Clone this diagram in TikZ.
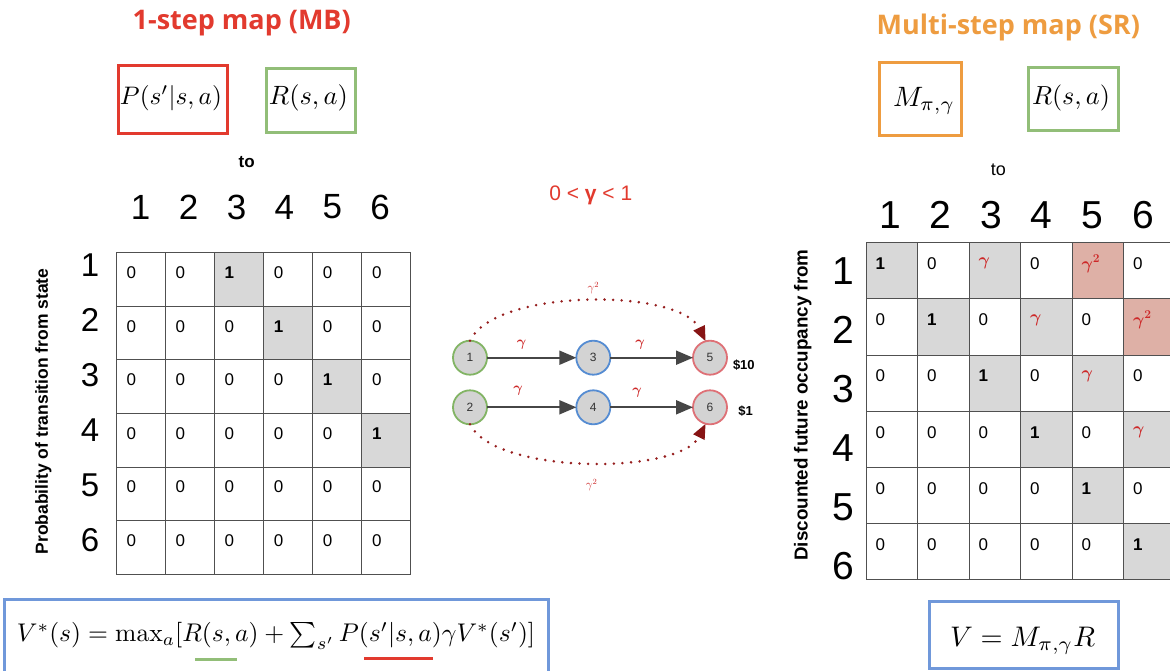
\documentclass[tikz,border=0pt]{standalone}
\usepackage{amsmath}
\usepackage{graphicx}
\usepackage[no-math]{fontspec}
\setmainfont{Liberation Sans}
\newfontfamily\headfont{Open Sans}
\usetikzlibrary{arrows.meta}

\definecolor{mbred}{RGB}{226,58,46}
\definecolor{srorange}{RGB}{238,156,64}
\definecolor{rgreen}{RGB}{146,190,120}
\definecolor{eqblue}{RGB}{112,152,218}
\definecolor{cellgray}{RGB}{216,216,216}
\definecolor{cellpink}{RGB}{222,176,166}
\definecolor{gridline}{RGB}{80,80,80}
\definecolor{gamred}{RGB}{205,40,40}
\definecolor{arrowgray}{RGB}{70,70,70}
\definecolor{dotred}{RGB}{150,30,30}
\definecolor{tipred}{RGB}{135,20,20}
\definecolor{nodefill}{RGB}{211,211,211}
\definecolor{ngreen}{RGB}{130,180,100}
\definecolor{nblue}{RGB}{85,140,210}
\definecolor{npink}{RGB}{222,112,118}

\newcommand\fsz[1]{\fontsize{#1}{#1}\selectfont}

\begin{document}
\begin{tikzpicture}[x=1pt,y=-1pt,
  every node/.style={inner sep=0pt, outer sep=0pt},
  title/.style={font=\headfont\bfseries\fsz{27}},
  termbox/.style={draw=#1, line width=3pt, fill=white},
  bigdigit/.style={font=\fsz{#1}},
  axislabel/.style={font=\bfseries\fsz{#1}, rotate=90},
  cell/.style={draw=gridline, line width=1pt, minimum width=#1, anchor=north west},
  celltext/.style={anchor=west, font=\fsz{17}},
  state/.style={circle, minimum size=34pt, fill=nodefill, line width=1.8pt, font=\fsz{12}, text=black!80},
  flow/.style={draw=arrowgray, line width=2pt, -{Triangle[length=17pt,width=14pt]}},
  jump/.style={draw=dotred, line width=2.8pt, line cap=round, dash pattern=on 0pt off 8.6pt,
    -{Triangle[length=15pt,width=12pt,fill=tipred,color=tipred]}},
  glab/.style={text=gamred, font=\fsz{14}},
  reward/.style={anchor=west, font=\bfseries\fsz{13}},
  eqbox/.style={draw=eqblue, line width=3pt},
]
\useasboundingbox (0,0) rectangle (1170,670);
\fill[white] (0,0) rectangle (1170,670);
\begin{scope}
\clip (0,0) rectangle (1170,670);

% ---------------- left: one-step model ----------------
\node[title, text=mbred] (mbtitle) at (241.7,23) {1-step map (MB)};
\node[termbox=mbred, minimum width=109pt, minimum height=68pt] (pbox) at (172.5,99) {};
\node (pterm) at (171,98) {\resizebox{102pt}{!}{$P(s'|s,a)$}};
\node[termbox=rgreen, minimum width=89pt, minimum height=64pt] (rbox) at (310.5,100) {};
\node (rterm) at (308.5,98) {\resizebox{79pt}{!}{$R(s,a)$}};

\node[font=\bfseries\fsz{17}] (lto) at (246.7,161.7) {to};
\foreach \c in {1,...,6}{
  \node[bigdigit=35] (lcol\c) at ({140.7+47.9*(\c-1)},207) {\c};
}
\foreach \r in {1,...,6}{
  \node[bigdigit=33] (lrow\r) at (90,{265+55*(\r-1)}) {\r};
}
\node[axislabel=17.5] (lylab) at (43.3,411.5) {Probability of transition from state};

\foreach \r in {1,...,6}{
  \foreach \c in {1,...,6}{
    \pgfmathtruncatemacro\d{\c-\r}
    \ifnum\d=2 \def\fc{cellgray}\def\val{\textbf{1}}\else\def\fc{white}\def\val{0}\fi
    \node[cell=49.1pt, minimum height=53.6pt, fill=\fc] (lc-\r-\c)
      at ({116+49.1*(\c-1)},{252.7+53.6*(\r-1)}) {};
    \node[celltext] (lt-\r-\c) at ({126.5+49.1*(\c-1)},{272.7+53.6*(\r-1)}) {\val};
  }
}

% ---------------- middle: state graph ----------------
\node[text=mbred, font=\fsz{21}] (gamrange) at (590.8,195) {0 < \textbf{γ} < 1};

\node[state, draw=ngreen] (n1) at (470,357.7) {1};
\node[state, draw=nblue]  (n3) at (593.3,357.7) {3};
\node[state, draw=npink]  (n5) at (710,357.7) {5};
\node[state, draw=ngreen] (n2) at (470,407.3) {2};
\node[state, draw=nblue]  (n4) at (593.3,407.3) {4};
\node[state, draw=npink]  (n6) at (710,407.3) {6};

\draw[flow] (n1) -- (n3);
\draw[flow] (n3) -- (n5);
\draw[flow] (n2) -- (n4);
\draw[flow] (n4) -- (n6);
\node[glab] (g13) at (521.7,345) {$\boldsymbol{\gamma}$};
\node[glab] (g35) at (640,345) {$\boldsymbol{\gamma}$};
\node[glab] (g24) at (518,391) {$\boldsymbol{\gamma}$};
\node[glab] (g46) at (637,393) {$\boldsymbol{\gamma}$};

\draw[jump] (n1.north) .. controls (495,288) and (680,288) .. (n5.105);
\draw[jump] (n2.south) .. controls (495,475) and (680,475) .. (n6.-105);
\node[glab, font=\fsz{12}] (gsqtop) at (593.3,288.3) {$\gamma^2$};
\node[glab, font=\fsz{12}] (gsqbot) at (591.7,485) {$\gamma^2$};

\node[reward] (r5) at (733,365) {\$10};
\node[reward] (r6) at (738.3,410.7) {\$1};

% ---------------- right: successor representation ----------------
\node[title, text=srorange] (srtitle) at (1008.3,27) {Multi-step map (SR)};
\node[termbox=srorange, minimum width=81.7pt, minimum height=73.3pt] (mbox) at (920.8,99.3) {};
\node (mterm) at (924,101) {\resizebox{62pt}{!}{$M_{\pi,\gamma}$}};
\node[termbox=rgreen, minimum width=90pt, minimum height=63pt] (rbox2) at (1073.3,99.2) {};
\node (rterm2) at (1071,98) {\resizebox{78pt}{!}{$R(s,a)$}};

\node[font=\fsz{18}] (rto) at (998.3,170) {to};
\foreach \c in {1,...,6}{
  \node[bigdigit=39] (rcol\c) at ({890+50.6*(\c-1)},215) {\c};
}
\foreach \r in {1,...,6}{
  \node[bigdigit=39] (rrow\r) at (843.3,{271+59*(\r-1)}) {\r};
}
\node[axislabel=18.8] (rylab) at (802.7,405) {Discounted future occupancy from};

\foreach \r in {1,...,6}{
  \foreach \c in {1,...,6}{
    \pgfmathtruncatemacro\d{\c-\r}
    \def\fc{white}\def\val{0}
    \ifnum\d=0 \def\fc{cellgray}\def\val{\textbf{1}}\fi
    \ifnum\d=2 \def\fc{cellgray}\def\val{\textcolor{gamred}{$\boldsymbol{\gamma}$}}\fi
    \ifnum\d=4 \def\fc{cellpink}\def\val{\textcolor{gamred}{$\boldsymbol{\gamma}^{\mathbf{2}}$}}\fi
    \node[cell=51.5pt, minimum height=56.2pt, fill=\fc] (rc-\r-\c)
      at ({866+51.5*(\c-1)},{242.7+56.2*(\r-1)}) {};
    \node[celltext] (rt-\r-\c) at ({875.5+51.5*(\c-1)},{263.7+56.2*(\r-1)}) {\val};
  }
}

% ---------------- bottom: value equations ----------------
\node[eqbox, minimum width=544pt, minimum height=78pt] (bellbox) at (276,638) {};
\node (bellman) at (276,636)
  {\resizebox{518pt}{!}{$V^*(s) = \max_a[R(s,a) + \sum_{s'} P(s'|s,a)\gamma V^*(s')]$}};
\draw[rgreen, line width=3pt] (195,659.3) -- (237,659.3);
\draw[mbred, line width=3pt] (364,658.5) -- (433,658.5);

\node[eqbox, minimum width=189pt, minimum height=67pt] (srbox) at (1023.5,634.5) {};
\node (srvalue) at (1022.5,641) {\resizebox{145pt}{!}{$V = M_{\pi,\gamma}R$}};
\end{scope}
\end{tikzpicture}
\end{document}
